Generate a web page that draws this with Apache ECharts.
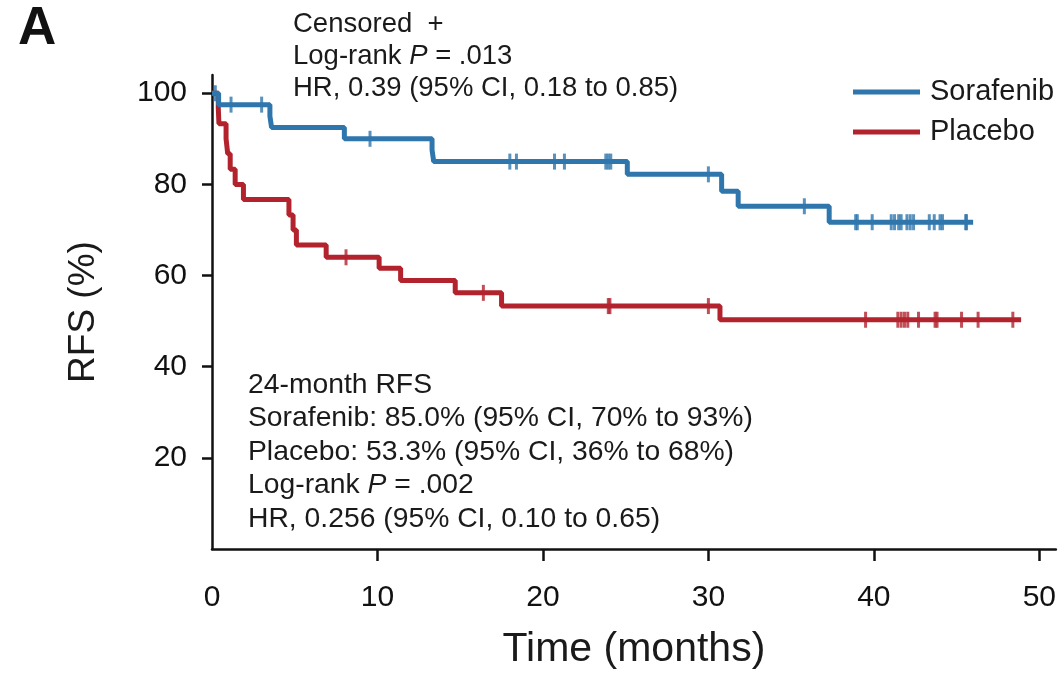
<!DOCTYPE html>
<html>
<head>
<meta charset="utf-8">
<title>RFS</title>
<script src="https://cdn.jsdelivr.net/npm/echarts@6/dist/echarts.min.js"></script>
<style>
  html, body { margin: 0; padding: 0; background: #fff; }
  #chart { width: 1059px; height: 675px; }
</style>
</head>
<body>
<div id="chart"></div>
<script>
// KM step points (time in months, RFS %)
const sorafenibTime = [0, 0.4, 3.5, 3.6, 8.0, 13.3, 13.4, 25.1, 30.8, 31.8, 37.3, 46.0]
const sorafenibRfs = [100, 97.5, 95, 92.5, 90, 87.5, 85, 82.2, 78.5, 75.2, 71.7, 71.7]
const sorafenibCensored = [0.2, 1.15, 3.0, 9.55, 18.0, 18.4, 20.7, 21.3, 23.8, 23.95, 24.1, 30.0,
  35.8, 38.9, 39.0, 39.9, 41.05, 41.25, 41.5, 41.65, 42.0, 42.2, 42.4, 43.35, 43.65, 44.0, 44.15, 45.55, 45.6]

const placeboTime = [0, 0.38, 0.42, 0.85, 0.95, 1.1, 1.4, 1.9, 4.65, 4.9, 5.1, 6.9, 10.1, 11.4, 14.7, 17.5, 30.7, 48.9]
const placeboRfs = [100, 96.7, 93.3, 90, 86.7, 83.3, 80, 76.7, 73.3, 70, 66.7, 64.0, 61.6, 58.9, 56.2, 53.3, 50.3, 50.3]
const placeboCensored = [8.1, 16.4, 23.95, 24.05, 30.0, 39.5, 41.45, 41.65, 41.85, 42.05, 42.7,
  43.7, 43.82, 45.3, 46.3, 48.4]

const xTicks = [0, 10, 20, 30, 40, 50]
const yTicks = [20, 40, 60, 80, 100]

const topNotes = ['Censored  +', 'Log-rank {i|P} = .013', 'HR, 0.39 (95% CI, 0.18 to 0.85)']
const bottomNotes = [
  '24-month RFS',
  'Sorafenib: 85.0% (95% CI, 70% to 93%)',
  'Placebo: 53.3% (95% CI, 36% to 68%)',
  'Log-rank {i|P} = .002',
  'HR, 0.256 (95% CI, 0.10 to 0.65)'
]

const blue = '#2f76ad'
const red = '#b2232d'
const font = 'Liberation Sans'

function pairs(t, v) {
  return t.map((x, i) => [x, v[i]])
}
// value of the step curve at a censoring time
function censorPoints(times, t, v) {
  return times.map(c => {
    let y = v[0]
    for (let i = 0; i < t.length; i++) {
      if (t[i] <= c) y = v[i]
    }
    return [c, y]
  })
}

function noteText(text, top, left, size) {
  return {
    type: 'text',
    left: left,
    top: top,
    style: {
      text: text,
      fontSize: size,
      fontFamily: font,
      fill: '#1a1a1a',
      rich: {
        i: { fontStyle: 'italic', fontSize: size, fontFamily: font, fill: '#1a1a1a' }
      }
    }
  }
}

const graphics = [{
  type: 'text',
  left: 18,
  top: 3,
  style: { text: 'A', fontSize: 53, fontWeight: 'bold', fontFamily: font, fill: '#111' }
}]
topNotes.forEach((s, i) => graphics.push(noteText(s, 10 + i * 32, 293, 27.5)))
bottomNotes.forEach((s, i) => graphics.push(noteText(s, 371 + i * 33.5, 248, 28.3)))

const chart = echarts.init(document.getElementById('chart'))
chart.setOption({
  animation: false,
  grid: { left: 212, right: 2, top: 75, bottom: 119 },
  legend: {
    orient: 'vertical',
    left: 848,
    top: 72,
    itemWidth: 67,
    itemHeight: 5,
    itemGap: 10,
    icon: 'rect',
    data: ['Sorafenib', 'Placebo'],
    textStyle: { fontSize: 29, fontFamily: font, color: '#1a1a1a', lineHeight: 30, padding: [0, 0, 0, 5] }
  },
  xAxis: {
    type: 'value',
    min: 0,
    max: 51,
    interval: 10,
    name: 'Time (months)',
    nameLocation: 'middle',
    nameGap: 80,
    nameTextStyle: { fontSize: 41, fontFamily: font, color: '#1a1a1a' },
    axisLine: { lineStyle: { color: '#111', width: 2.5 } },
    axisTick: { customValues: [10, 20, 30, 40, 50], length: 12, lineStyle: { color: '#111', width: 2.5 } },
    axisLabel: { customValues: xTicks, margin: 34, fontSize: 30, fontFamily: font, color: '#111' },
    splitLine: { show: false }
  },
  yAxis: {
    type: 'value',
    min: 0,
    max: 104,
    interval: 20,
    name: 'RFS (%)',
    nameLocation: 'middle',
    nameGap: 110,
    nameTextStyle: { fontSize: 37, fontFamily: font, color: '#1a1a1a' },
    axisLine: { show: true, lineStyle: { color: '#111', width: 2.5 } },
    axisTick: { show: true, customValues: yTicks, length: 10, lineStyle: { color: '#111', width: 2.5 } },
    axisLabel: { customValues: yTicks, margin: 25, fontSize: 30, fontFamily: font, color: '#111' },
    splitLine: { show: false }
  },
  series: [
    {
      name: 'Placebo',
      type: 'line',
      step: 'end',
      showSymbol: false,
      color: red,
      lineStyle: { width: 5 },
      data: pairs(placeboTime, placeboRfs)
    },
    {
      name: 'Sorafenib',
      type: 'line',
      step: 'end',
      showSymbol: false,
      color: blue,
      lineStyle: { width: 5 },
      data: pairs(sorafenibTime, sorafenibRfs)
    },
    {
      name: 'Placebo censored',
      type: 'scatter',
      symbol: 'rect',
      symbolSize: [3, 16],
      itemStyle: { color: red },
      data: censorPoints(placeboCensored, placeboTime, placeboRfs)
    },
    {
      name: 'Sorafenib censored',
      type: 'scatter',
      symbol: 'rect',
      symbolSize: [3, 16],
      itemStyle: { color: blue },
      data: censorPoints(sorafenibCensored, sorafenibTime, sorafenibRfs)
    }
  ],
  graphic: graphics
})
</script>
</body>
</html>
